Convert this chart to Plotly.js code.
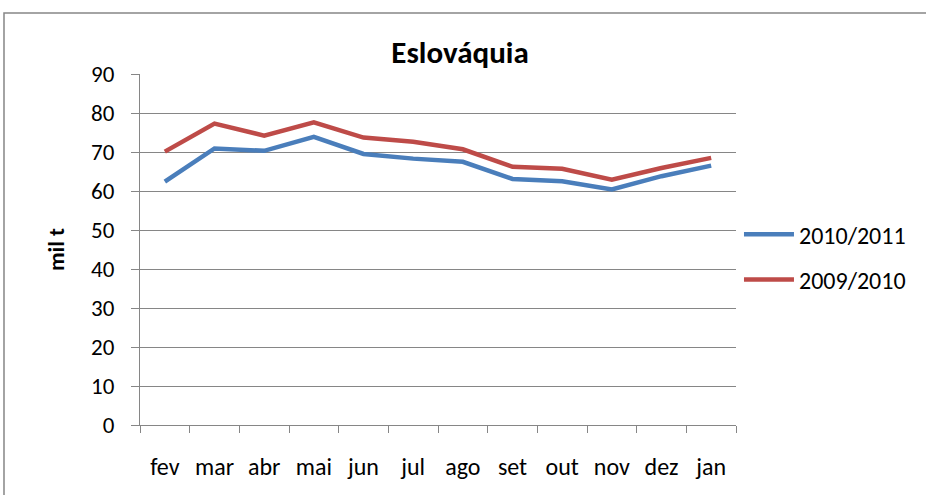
<!DOCTYPE html>
<html>
<head>
<meta charset="utf-8">
<script src="https://cdn.plot.ly/plotly-3.0.1.min.js"></script>
<style>html,body{margin:0;padding:0;background:#fff;}#chart{width:926px;height:495px;}</style>
</head>
<body>
<div id="chart"></div>
<script>
const months = ["fev","mar","abr","mai","jun","jul","ago","set","out","nov","dez","jan"];
const s2010_2011 = [62.4, 70.9, 70.3, 73.9, 69.5, 68.3, 67.5, 63.1, 62.5, 60.4, 63.8, 66.5];
const s2009_2010 = [70.1, 77.3, 74.2, 77.6, 73.7, 72.6, 70.7, 66.2, 65.7, 62.9, 65.9, 68.5];
const seriesNames = ["2010/2011", "2009/2010"];
const yTicks = [0,10,20,30,40,50,60,70,80,90];

const font = "Carlito, Lato, 'Noto Sans', sans-serif";
const traces = [
  {x: months, y: s2010_2011, name: seriesNames[0], type: "scatter", mode: "lines", legendgroup: "a",
   line: {color: "#4A7EBB", width: 4.5}},
  {x: months, y: s2009_2010, name: seriesNames[1], type: "scatter", mode: "lines", legendgroup: "b",
   line: {color: "#BE4B48", width: 4.5}}
];
const layout = {
  width: 926, height: 495,
  margin: {l: 140, r: 190, t: 74, b: 70},
  paper_bgcolor: "#fff", plot_bgcolor: "#fff",
  font: {family: font, size: 23, color: "#000"},
  title: {text: "<b>Eslováquia</b>", font: {family: font, size: 31, color: "#000"},
          x: 0.4968, xanchor: "center", y: 0.895, yanchor: "middle"},
  showlegend: true,
  legend: {x: 1.005, xanchor: "left", y: 0.478, yanchor: "middle", font: {family: font, size: 24},
           traceorder: "grouped", tracegroupgap: 11, itemwidth: 50, bgcolor: "rgba(0,0,0,0)"},
  xaxis: {type: "category", range: [-0.5, 11.5], tickson: "boundaries", ticks: "outside", ticklen: 7,
          tickcolor: "#868686", showline: true, linecolor: "#868686", linewidth: 1, showgrid: false,
          zeroline: false, ticklabelstandoff: 20, tickfont: {family: font, size: 24}},
  yaxis: {range: [0, 90], tickvals: yTicks, ticks: "outside", ticklen: 8, tickcolor: "#868686",
          showline: true, linecolor: "#868686", linewidth: 1, showgrid: true, gridcolor: "#868686",
          gridwidth: 1, zeroline: false, ticklabelstandoff: 12, tickfont: {family: font, size: 23},
          title: {text: "<b>mil t</b>", font: {family: font, size: 23}, standoff: 20}},
  shapes: [{type: "rect", xref: "paper", yref: "paper", x0: -0.2282, x1: 1.342, y0: -0.242, y1: 1.1738,
            line: {color: "#868686", width: 1.5}, fillcolor: "rgba(0,0,0,0)"}]
};
Plotly.newPlot("chart", traces, layout, {displayModeBar: false});
</script>
</body>
</html>
